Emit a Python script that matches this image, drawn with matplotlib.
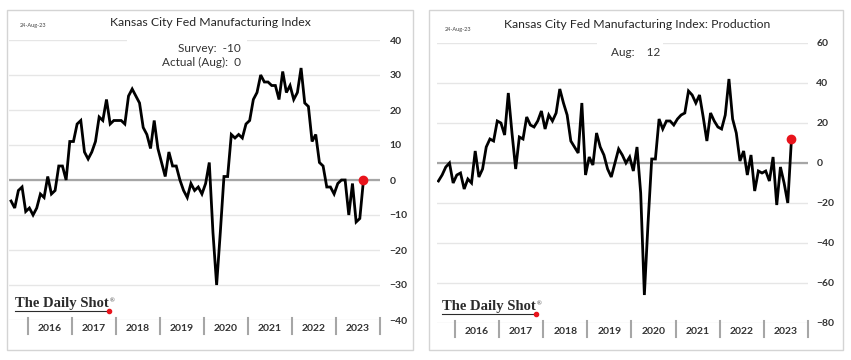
import matplotlib.pyplot as plt
import numpy as np
from matplotlib.lines import Line2D
from matplotlib.patches import Rectangle

plt.rcParams['font.family'] = ['Lato', 'DejaVu Sans']

W, H = 851, 360

# donnees mensuelles, aout 2015 -> aout 2023
composite = [-6, -8, -3, -2, -9,
             -8, -10, -8, -4, -5, 1, -4, -3, 4, 4, 0, 11,
             11, 16, 17, 8, 6, 8, 11, 18, 17, 23, 16, 17,
             17, 17, 16, 24, 26, 24, 22, 15, 13, 9, 17, 9,
             5, 1, 8, 4, 4, 0, -3, -5, -1, -3, -2, -4,
             -1, 5, -15, -30, -15, 1, 1, 13, 12, 13, 12, 16,
             17, 23, 25, 30, 28, 28, 27, 27, 23, 31, 25, 27,
             23, 25, 32, 22, 21, 11, 13, 5, 4, -2, -2, -4,
             -1, 0, 0, -10, -1, -12, -11, 0]
production = [-9, -6, -2, 0, -10,
              -6, -5, -13, -8, -10, 6, -7, -3, 8, 12, 11, 21,
              20, 14, 35, 15, -3, 13, 12, 23, 19, 18, 21, 26,
              17, 24, 21, 25, 37, 30, 24, 11, 8, 5, 30, -6,
              3, -1, 15, 8, 4, -3, -7, 0, 7, 4, 0, 3,
              -4, 8, -15, -66, -30, 2, 2, 22, 17, 21, 21, 19,
              22, 24, 25, 36, 34, 30, 34, 23, 11, 25, 21, 18,
              17, 24, 42, 22, 15, 1, 6, -6, 4, -14, -4, -5,
              -4, -9, 3, -21, -2, -10, -20, 12]
years = [2016, 2017, 2018, 2019, 2020, 2021, 2022, 2023]


def fx(px):
    return px / W


def fy(py):
    return 1 - py / H


def panel(ax, values, ymin, ymax, step, pad):
    x = np.arange(len(values))
    ax.set_xlim(-0.5, 100.5)
    ax.set_ylim(ymin, ymax)
    ax.set_yticks(np.arange(ymin, ymax + 1, step))
    ax.yaxis.tick_right()
    ax.tick_params(axis='y', length=0, pad=pad, labelsize=7.5, labelcolor='#333333')
    for t in ax.get_yticklabels():
        t.set_fontweight('bold')
    ax.set_xticks([])
    for s in ax.spines.values():
        s.set_visible(False)
    ax.grid(axis='y', color='#e6e6e6', lw=1)
    ax.axhline(0, color='#a6a6a6', lw=1.6)
    ax.plot(x, values, color='black', lw=2, solid_joinstyle='miter')
    ax.plot(x[-1], values[-1], 'o', color='#e8141c', ms=6, zorder=5)
    # separateurs et libelles des annees
    tr = ax.get_xaxis_transform()
    for i, yr in enumerate(years):
        b = 4.5 + 12 * i
        ax.plot([b, b], [0.007, -0.05], transform=tr, clip_on=False, color='#a6a6a6', lw=1.5)
        ax.text(b + 6, -0.03, str(yr), transform=tr, ha='center', va='center',
                fontsize=7.5, fontweight='bold', color='#333333')
    b = 4.5 + 12 * len(years)
    ax.plot([b, b], [0.007, -0.05], transform=tr, clip_on=False, color='#a6a6a6', lw=1.5)


def logo(fig, x0, y0, uy):
    t = fig.text(fx(x0), fy(y0), 'The Daily Shot', family='Liberation Serif', fontsize=10.5,
                 fontweight='bold', color='#2b2b2b', va='baseline', ha='left')
    bb = t.get_window_extent(renderer=fig.canvas.get_renderer())
    x1 = bb.x1
    fig.text(fx(x1 + 1), fy(y0 - 6), '®', family='Liberation Serif', fontsize=4.5,
             color='#2b2b2b', va='center', ha='left')
    fig.add_artist(Line2D([fx(x0), fx(x1)], [fy(uy), fy(uy)], color='#2b2b2b', lw=0.8))
    fig.add_artist(Line2D([fx(x1)], [fy(uy)], marker='o', ms=3, color='#e8141c'))


fig = plt.figure(figsize=(W / 100, H / 100), dpi=100)

# cadres des deux images
fig.add_artist(Rectangle((fx(7), fy(350)), fx(406), 340 / H, fill=False, ec='#d4d4d4', lw=1))
fig.add_artist(Rectangle((fx(429), fy(350)), fx(414), 340 / H, fill=False, ec='#d4d4d4', lw=1))

ax1 = fig.add_axes([fx(9.2), fy(320), fx(370.8), 280 / H])
panel(ax1, composite, -40, 40, 10, 7)
ax2 = fig.add_axes([fx(436.6), fy(323), fx(371.4), 280 / H])
panel(ax2, production, -80, 60, 20, 6)

# titres
fig.text(fx(210), fy(22), 'Kansas City Fed Manufacturing Index', ha='center', va='center',
         fontsize=8.8, color='#262626')
fig.text(fx(637), fy(24), 'Kansas City Fed Manufacturing Index: Production', ha='center',
         va='center', fontsize=8.8, color='#262626')
fig.text(fx(20), fy(25), '24-Aug-23', fontsize=4, color='#404040', va='center')
fig.text(fx(445), fy(29), '24-Aug-23', fontsize=4, color='#404040', va='center')

# encadres d'annotation
fig.add_artist(Rectangle((fx(127), fy(70)), fx(120), 35 / H, fc='white', ec='none', zorder=2))
fig.add_artist(Rectangle((fx(597), fy(60)), fx(66), 24 / H, fc='white', ec='none', zorder=2))
fig.text(fx(241), fy(48), 'Survey:  -10', ha='right', va='center', fontsize=8.5, color='#333333')
fig.text(fx(241), fy(62), 'Actual (Aug):  0', ha='right', va='center', fontsize=8.5, color='#333333')
fig.text(fx(636), fy(52), 'Aug:    12', ha='center', va='center', fontsize=8.5, color='#333333')

logo(fig, 15, 307, 311)
logo(fig, 442, 310, 314)

fig.savefig('out.png', dpi=100)
